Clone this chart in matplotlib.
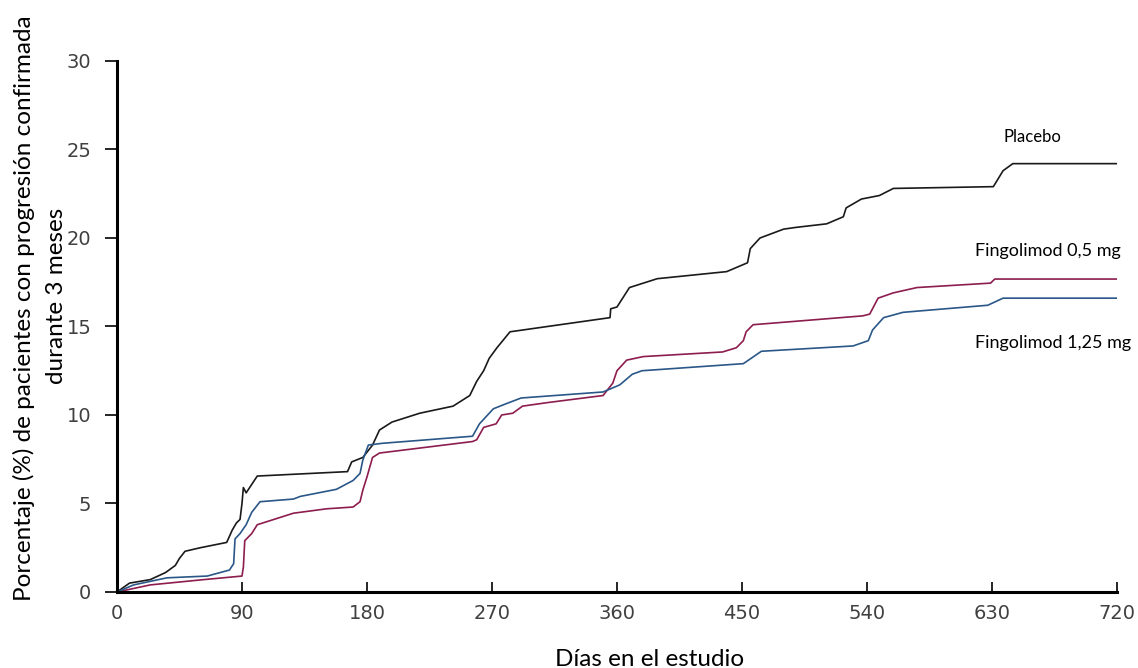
import matplotlib.pyplot as plt

# days / cumulative %
placebo_days = [0, 9, 24, 35, 42, 45, 49, 60, 79, 83, 86, 88.6, 90, 91, 93, 101,
                166, 169, 177, 184, 189, 198, 218, 242, 254, 259, 264, 268, 273.6,
                283, 355, 355.5, 360, 369, 389, 439, 454, 456, 463, 480, 489,
                511, 523, 525, 536, 549, 559, 631, 638, 645, 720]
placebo_pct = [0, 0.5, 0.7, 1.1, 1.5, 1.9, 2.3, 2.5, 2.8, 3.5, 3.9, 4.1, 5.0, 5.9, 5.6, 6.55,
               6.8, 7.35, 7.6, 8.3, 9.15, 9.6, 10.1, 10.5, 11.1, 11.9, 12.5, 13.2, 13.8,
               14.7, 15.5, 16.0, 16.1, 17.2, 17.7, 18.1, 18.6, 19.4, 20.0, 20.5, 20.6,
               20.8, 21.2, 21.7, 22.2, 22.4, 22.8, 22.9, 23.8, 24.2, 24.2]

f05_days = [0, 24, 60, 90, 91, 92, 97, 101, 127, 151, 170, 175, 177, 180, 184, 189,
            256, 259, 264, 273, 277, 285, 292, 310, 350, 357, 360, 367, 379, 436,
            446, 451, 453, 458, 537, 542, 548, 559, 576, 629, 632, 720]
f05_pct = [0, 0.4, 0.68, 0.9, 1.4, 2.9, 3.3, 3.8, 4.45, 4.7, 4.8, 5.1, 5.75, 6.5, 7.6, 7.85,
           8.5, 8.6, 9.3, 9.5, 10.0, 10.1, 10.5, 10.7, 11.1, 11.8, 12.5, 13.1, 13.3, 13.56,
           13.8, 14.2, 14.7, 15.1, 15.6, 15.7, 16.6, 16.9, 17.2, 17.45, 17.68, 17.68]

f125_days = [0, 12, 36, 65, 81, 84, 85, 88.6, 93, 97, 103, 127, 132, 158, 170, 175,
             177, 181, 191, 256, 261, 271, 279, 291, 350, 362, 371, 378, 451, 464,
             530, 541, 544, 552, 566, 627, 638, 720]
f125_pct = [0, 0.4, 0.8, 0.9, 1.24, 1.6, 3.0, 3.3, 3.8, 4.5, 5.1, 5.25, 5.4, 5.8, 6.3, 6.7,
            7.45, 8.3, 8.4, 8.8, 9.5, 10.35, 10.6, 10.96, 11.3, 11.7, 12.3, 12.5, 12.9, 13.6,
            13.9, 14.2, 14.8, 15.5, 15.8, 16.2, 16.6, 16.6]

x_ticks = [0, 90, 180, 270, 360, 450, 540, 630, 720]
y_ticks = [0, 5, 10, 15, 20, 25, 30]

fig = plt.figure(figsize=(11.38, 6.68), dpi=100)
ax = fig.add_axes([0.1028, 0.1138, 0.8787, 0.7949])

ax.plot(placebo_days, placebo_pct, color='#1a1a1a', lw=1.2)
ax.plot(f05_days, f05_pct, color='#8c1d4e', lw=1.2)
ax.plot(f125_days, f125_pct, color='#2a5788', lw=1.2)

ax.set_xlim(0, 720)
ax.set_ylim(0, 30)
ax.set_xticks(x_ticks)
ax.set_yticks(y_ticks)
ax.spines['top'].set_visible(False)
ax.spines['right'].set_visible(False)
ax.spines['left'].set_linewidth(2.2)
ax.spines['bottom'].set_linewidth(2.2)
ax.tick_params(axis='x', direction='in', length=7, width=1.2, pad=9,
               labelsize=14, labelcolor='#404040')
ax.tick_params(axis='y', direction='out', length=8.5, width=1.2, pad=10,
               labelsize=14, labelcolor='#404040')

lab = dict(family='Lato', fontsize=17.5, color='black')
fig.text(0.571, 0.003, 'Días en el estudio', ha='center', va='baseline', **lab)
fig.text(0.021, 0.539, 'Porcentaje (%) de pacientes con progresión confirmada',
         rotation=90, ha='center', va='center', **lab)
fig.text(0.050, 0.557, 'durante 3 meses', rotation=90, ha='center', va='center', **lab)

ax.text(638, 25.7, 'Placebo', ha='left', va='center', family='Lato', fontsize=12)
ax.text(618, 19.25, 'Fingolimod 0,5 mg', ha='left', va='center', family='Lato', fontsize=13)
ax.text(618, 14.05, 'Fingolimod 1,25 mg', ha='left', va='center', family='Lato', fontsize=13)

fig.savefig('out.png', dpi=100)
